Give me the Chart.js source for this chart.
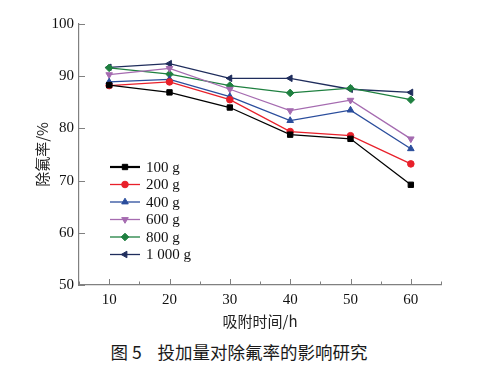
<!DOCTYPE html>
<html>
<head>
<meta charset="utf-8">
<script src="https://cdn.jsdelivr.net/npm/chart.js@4"></script>
<style>
  body { margin: 0; background: #fff; }
  #wrap { position: relative; width: 496px; height: 371px; }
  #caption {
    position: absolute; left: 0; top: 340px; width: 478px; text-align: center;
    font-family: "Noto Sans CJK SC", sans-serif; font-size: 17.5px; font-weight: 400;
    color: #1a1a1a; line-height: 24px; white-space: pre;
  }
</style>
</head>
<body>
<div id="wrap">
  <canvas id="chart" width="496" height="335"></canvas>
  <div id="caption">图 5    投加量对除氟率的影响研究</div>
</div>
<script>
// adsorption time (h)
const hours = [10, 20, 30, 40, 50, 60];
const doseLabels = ['100 g', '200 g', '400 g', '600 g', '800 g', '1 000 g'];

// fluoride removal rate (%)
const rate100 = [88.3, 86.9, 84.0, 78.8, 78.0, 69.2];
const rate200 = [88.2, 88.9, 85.5, 79.4, 78.6, 73.2];
const rate400 = [88.9, 89.4, 86.1, 81.5, 83.5, 76.1];
const rate600 = [90.3, 91.5, 87.5, 83.4, 85.4, 78.0];
const rate800 = [91.6, 90.4, 88.2, 86.8, 87.7, 85.5];
const rate1000 = [91.7, 92.4, 89.6, 89.6, 87.5, 86.9];

const colors = ['#000000', '#e8202a', '#2a4d9c', '#a56bb0', '#1f8040', '#1f2d5c'];
const markers = ['rect', 'circle', 'triangle', 'triangle', 'rectRot', 'triangle'];
const rotations = [0, 0, 0, 180, 0, -90];

const allRates = [rate100, rate200, rate400, rate600, rate800, rate1000];

const datasets = allRates.map((vals, i) => ({
  label: doseLabels[i],
  data: vals.map((v, j) => ({ x: hours[j], y: v })),
  borderColor: colors[i],
  backgroundColor: colors[i],
  borderWidth: 1.3,
  pointStyle: markers[i],
  pointRotation: rotations[i],
  pointRadius: markers[i] === 'circle' ? 3.3 : 3.8,
  pointBorderWidth: 1,
  tension: 0
}));

const serif = '"Liberation Serif", "Times New Roman", serif';
const axisColor = '#808080';

// inward ticks + custom legend inside the plot
const extras = {
  id: 'extras',
  afterDraw(chart) {
    const ctx = chart.ctx;
    const xs = chart.scales.x, ys = chart.scales.y;
    const area = chart.chartArea;
    ctx.save();
    ctx.strokeStyle = axisColor;
    ctx.lineWidth = 1;
    for (let v = 5; v <= 65; v += 5) {
      const px = Math.round(xs.getPixelForValue(v)) + 0.5;
      const len = v % 10 === 0 ? 6 : 3.5;
      ctx.beginPath();
      ctx.moveTo(px, area.bottom);
      ctx.lineTo(px, area.bottom - len);
      ctx.stroke();
    }
    for (let v = 50; v <= 100; v += 10) {
      const py = Math.round(ys.getPixelForValue(v)) + 0.5;
      ctx.beginPath();
      ctx.moveTo(area.left, py);
      ctx.lineTo(area.left + 6, py);
      ctx.stroke();
    }
    // legend
    const lx = 110, ly = 167, step = 17.5;
    ctx.font = '15px ' + serif;
    ctx.textBaseline = 'middle';
    chart.data.datasets.forEach((ds, i) => {
      const y = ly + i * step;
      ctx.strokeStyle = ds.borderColor;
      ctx.lineWidth = i === 0 ? 2.2 : 1.3;
      ctx.beginPath();
      ctx.moveTo(lx, y);
      ctx.lineTo(lx + 30, y);
      ctx.stroke();
      ctx.fillStyle = ds.backgroundColor;
      ctx.lineWidth = 1;
      Chart.helpers.drawPoint(ctx, {
        pointStyle: ds.pointStyle,
        rotation: ds.pointRotation,
        radius: ds.pointRadius,
        borderWidth: 1
      }, lx + 15, y);
      ctx.fillStyle = '#111';
      ctx.fillText(ds.label, lx + 36, y + 1);
    });
    ctx.restore();
  }
};

new Chart(document.getElementById('chart'), {
  type: 'line',
  data: { datasets },
  options: {
    responsive: false,
    animation: false,
    layout: { padding: { top: 24, right: 55, left: 33, bottom: 5 } },
    plugins: { legend: { display: false }, tooltip: { enabled: false } },
    scales: {
      x: {
        type: 'linear',
        min: 5,
        max: 65,
        afterBuildTicks(scale) {
          scale.ticks = hours.map(h => ({ value: h }));
        },
        afterFit(scale) { scale.height = 45; },
        grid: { display: false, drawTicks: false },
        border: { display: true, color: axisColor, width: 1.2 },
        ticks: { color: '#111', font: { family: serif, size: 15 }, padding: 6, maxRotation: 0 },
        title: {
          display: true, text: '吸附时间/h', color: '#222',
          font: { family: '"Noto Sans CJK SC", ' + serif, size: 15 },
          padding: { top: 0, bottom: 0 }
        }
      },
      y: {
        min: 50,
        max: 100,
        afterFit(scale) { scale.width = 46; },
        grid: { display: false, drawTicks: false },
        border: { display: true, color: axisColor, width: 1.2 },
        ticks: { stepSize: 10, color: '#111', font: { family: serif, size: 15 }, padding: 5 },
        title: {
          display: true, text: '除氟率/%', color: '#222',
          font: { family: '"Noto Sans CJK SC", ' + serif, size: 15 },
          padding: { top: 0, bottom: 2 }
        }
      }
    }
  },
  plugins: [extras]
});
</script>
</body>
</html>
